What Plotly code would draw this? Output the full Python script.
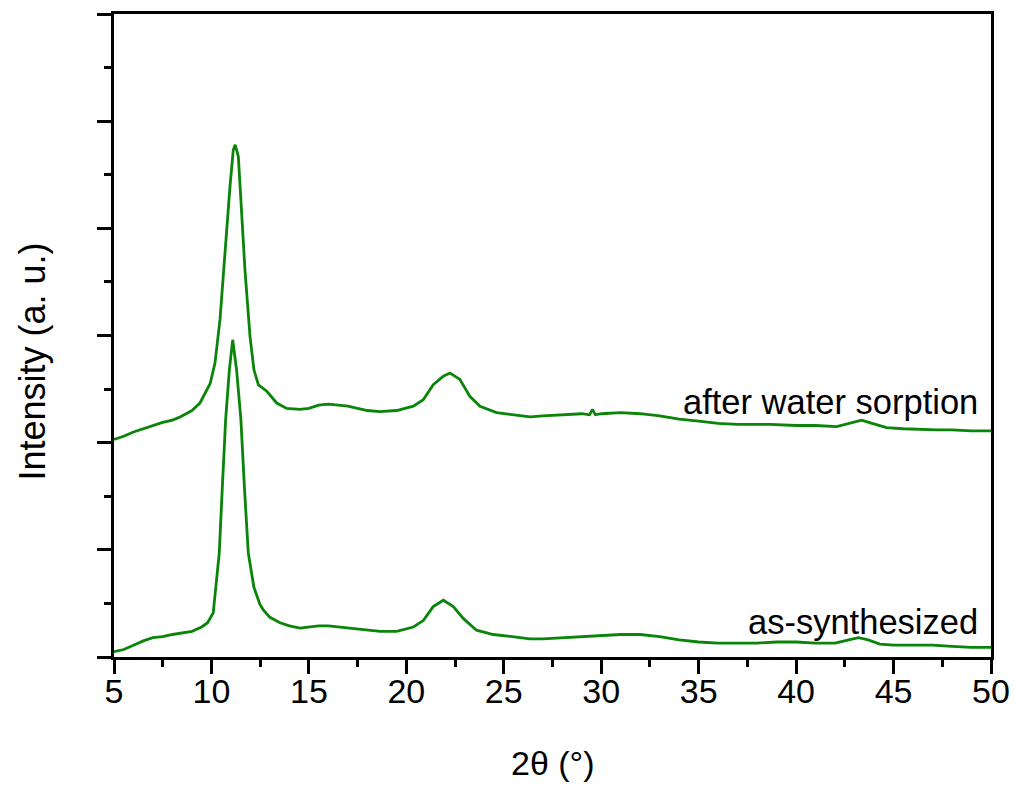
import plotly.graph_objects as go

# ---- data (2theta in degrees, intensity in arbitrary units) ----
two_theta_as = [5.0, 5.5, 6.0, 6.5, 7.0, 7.5, 8.0, 8.4, 9.0, 9.5, 9.8, 10.09, 10.23, 10.4, 10.56,
                10.73, 10.92, 11.09, 11.29, 11.51, 11.69, 11.89, 12.18, 12.49, 12.66, 13.0, 13.52,
                14.0, 14.54, 15.0, 15.5, 16.0, 16.5, 17.0, 17.5, 18.0, 18.65, 19.5, 20.36, 20.87,
                21.38, 21.9, 22.41, 22.92, 23.6, 24.46, 25.5, 26.35, 27.0, 28.0, 29.0, 30.0, 31.0,
                32.0, 33.0, 34.0, 35.0, 36.0, 37.0, 38.0, 39.0, 40.0, 41.0, 42.0, 42.7, 43.2, 43.7,
                44.3, 45.0, 46.0, 47.0, 48.0, 49.0, 50.0]
intensity_as = [0.05, 0.07, 0.11, 0.15, 0.18, 0.19, 0.21, 0.22, 0.24, 0.28, 0.32, 0.41, 0.65, 0.97,
                1.59, 2.22, 2.68, 2.96, 2.68, 2.22, 1.59, 0.97, 0.65, 0.49, 0.44, 0.37, 0.32, 0.29,
                0.27, 0.28, 0.29, 0.29, 0.28, 0.27, 0.26, 0.25, 0.24, 0.24, 0.28, 0.34, 0.47, 0.53,
                0.47, 0.36, 0.25, 0.21, 0.19, 0.17, 0.17, 0.18, 0.19, 0.20, 0.21, 0.21, 0.19, 0.16,
                0.14, 0.13, 0.13, 0.13, 0.14, 0.14, 0.13, 0.13, 0.16, 0.18, 0.16, 0.12, 0.11, 0.11,
                0.11, 0.10, 0.09, 0.09]

two_theta_water = [5.0, 5.5, 6.0, 6.5, 7.0, 7.5, 8.0, 8.39, 9.0, 9.41, 9.93, 10.18, 10.44, 10.69,
                   10.95, 11.12, 11.22, 11.38, 11.55, 11.72, 11.98, 12.18, 12.41, 12.84, 13.35,
                   13.86, 14.54, 15.0, 15.5, 16.0, 16.5, 17.0, 17.5, 18.0, 18.65, 19.5, 20.36, 20.87,
                   21.38, 21.9, 22.24, 22.75, 23.27, 23.78, 24.63, 26.35, 27.0, 28.0, 29.0, 29.4,
                   29.55, 29.7, 30.0, 31.0, 32.0, 33.0, 34.0, 35.0, 36.0, 37.0, 38.66, 40.0, 41.0,
                   42.08, 42.8, 43.36, 43.9, 44.64, 45.5, 46.5, 47.2, 48.0, 49.0, 50.0]
intensity_water = [2.03, 2.06, 2.10, 2.13, 2.16, 2.19, 2.21, 2.24, 2.30, 2.37, 2.55, 2.74, 3.15,
                   3.77, 4.39, 4.73, 4.78, 4.67, 4.17, 3.61, 2.99, 2.68, 2.54, 2.48, 2.37, 2.32,
                   2.31, 2.32, 2.35, 2.36, 2.35, 2.34, 2.32, 2.30, 2.29, 2.30, 2.34, 2.40, 2.54,
                   2.62, 2.65, 2.59, 2.43, 2.34, 2.28, 2.24, 2.25, 2.26, 2.27, 2.26, 2.31, 2.26,
                   2.27, 2.28, 2.27, 2.25, 2.22, 2.20, 2.18, 2.17, 2.17, 2.16, 2.16, 2.15, 2.18,
                   2.21, 2.18, 2.14, 2.13, 2.12, 2.12, 2.12, 2.11, 2.11]

labels = ["as-synthesized", "after water sorption"]

GREEN = "#0a850a"
FONT = "Arial, 'Liberation Sans', sans-serif"

fig = go.Figure()
fig.add_trace(go.Scatter(x=two_theta_as, y=intensity_as, mode="lines",
                         line=dict(color=GREEN, width=2.8), name=labels[0], showlegend=False))
fig.add_trace(go.Scatter(x=two_theta_water, y=intensity_water, mode="lines",
                         line=dict(color=GREEN, width=2.8), name=labels[1], showlegend=False))

fig.add_annotation(x=49.43, y=0.33, text=labels[0], showarrow=False, xanchor="right",
                   yanchor="middle", font=dict(family=FONT, size=34.5, color="black"))
fig.add_annotation(x=49.43, y=2.38, text=labels[1], showarrow=False, xanchor="right",
                   yanchor="middle", font=dict(family=FONT, size=34.5, color="black"))

# axis titles
fig.add_annotation(xref="paper", yref="paper", x=0.5, y=0, yshift=-106, text="2θ (°)",
                   showarrow=False, xanchor="center", yanchor="middle",
                   font=dict(family=FONT, size=34, color="black"))
fig.add_annotation(xref="paper", yref="paper", x=0, xshift=-82, y=0.5, yshift=-26,
                   text="Intensity (a. u.)", textangle=-90, showarrow=False,
                   xanchor="center", yanchor="middle",
                   font=dict(family=FONT, size=36, color="black"))

fig.update_layout(
    width=1014, height=785,
    margin=dict(l=114, r=23, t=14, b=128),
    paper_bgcolor="white", plot_bgcolor="white",
    font=dict(family=FONT, size=34, color="black"),
    xaxis=dict(range=[5, 50], tickmode="linear", tick0=5, dtick=5, automargin=False,
               ticks="outside", ticklen=14, tickwidth=3, tickcolor="black",
               ticklabelstandoff=-12,
               showline=True, linewidth=3, linecolor="black", mirror=True,
               showgrid=False, zeroline=False,
               tickfont=dict(family=FONT, size=34, color="black"),
               minor=dict(ticks="outside", dtick=2.5, ticklen=7, tickwidth=3,
                          tickcolor="black", showgrid=False)),
    yaxis=dict(range=[0, 6], tickmode="linear", tick0=0, dtick=1, automargin=False,
               ticks="outside", ticklen=14, tickwidth=3, tickcolor="black",
               showticklabels=False,
               showline=True, linewidth=3, linecolor="black", mirror=True,
               showgrid=False, zeroline=False,
               minor=dict(ticks="outside", dtick=0.5, ticklen=7, tickwidth=3,
                          tickcolor="black", showgrid=False)),
)

fig.write_html("out.html")
